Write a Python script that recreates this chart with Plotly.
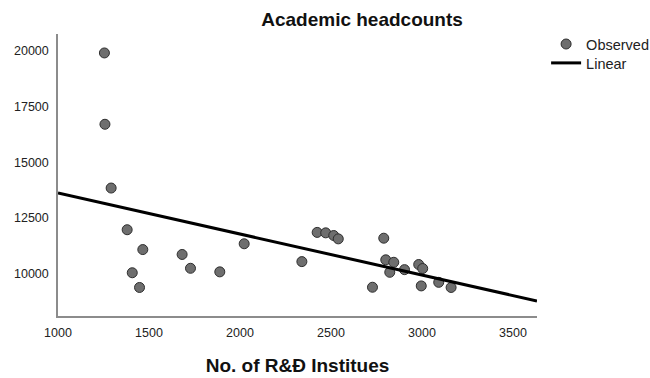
import numpy as np
import plotly.graph_objects as go

# Observed data (No. of R&D institutes, academic headcounts)
institutes = [1255, 1258, 1292, 1380, 1466, 1408, 1448, 1682, 1728, 1889,
              2023, 2340, 2424, 2471, 2515, 2540, 2790, 2801, 2845, 2823,
              2904, 2728, 2982, 3004, 2996, 3092, 3160]
headcounts = [19900, 16700, 13840, 11970, 11080, 10040, 9380, 10860, 10240, 10080,
              11340, 10540, 11850, 11830, 11710, 11560, 11590, 10620, 10510, 10060,
              10180, 9390, 10410, 10230, 9450, 9610, 9380]

# Linear fit (intercept, slope)
fit_coef = [15454, -1.839]
x_range = [1000, 3632]
y_range = [8100, 20750]
x_ticks = [1000, 1500, 2000, 2500, 3000, 3500]
y_ticks = [10000, 12500, 15000, 17500, 20000]

fit_x = np.array(x_range, dtype=float)
fit_y = fit_coef[0] + fit_coef[1] * fit_x

FONT = "Liberation Sans, Arial, sans-serif"

fig = go.Figure()
fig.add_trace(go.Scatter(
    x=institutes, y=headcounts, mode="markers", name="Observed", legend="legend",
    marker=dict(size=10, color="#6e6e6e", line=dict(color="#2e2e2e", width=1)),
))
fig.add_trace(go.Scatter(
    x=fit_x, y=fit_y, mode="lines", name="Linear", legend="legend2",
    line=dict(color="black", width=3),
))

legend_style = dict(xanchor="left", yanchor="top",
                    font=dict(size=14.5, color="#222222"),
                    bgcolor="rgba(0,0,0,0)")

fig.update_layout(
    width=650, height=378,
    margin=dict(l=58, r=113, t=34, b=62, autoexpand=False),
    paper_bgcolor="white", plot_bgcolor="white",
    font=dict(family=FONT, size=12, color="#222222"),
    title=dict(text="<b>Academic headcounts</b>", x=0.557, xanchor="center",
               y=0.948, yanchor="middle", font=dict(size=19, color="#111111")),
    legend=dict(x=1.019, y=1.021, **legend_style),
    legend2=dict(x=1.019, y=0.954, **legend_style),
    showlegend=True,
)
fig.update_xaxes(
    range=x_range, tickvals=x_ticks, ticktext=[str(v) for v in x_ticks],
    showgrid=False, zeroline=False, showline=True, linecolor="#8c8c8c", linewidth=1.5,
    ticks="", ticklabelstandoff=4, tickfont=dict(size=12.5, color="#222222"),
    title=dict(text="<b>No. of R&amp;Đ Institues</b>", font=dict(size=19, color="#111111"), standoff=20),
)
fig.update_yaxes(
    range=y_range, tickvals=y_ticks, ticktext=[str(v) for v in y_ticks],
    showgrid=False, zeroline=False, showline=True, linecolor="#8c8c8c", linewidth=1.5,
    ticks="", ticklabelstandoff=5, tickfont=dict(size=12.5, color="#222222"),
)

fig.write_html("out.html")
